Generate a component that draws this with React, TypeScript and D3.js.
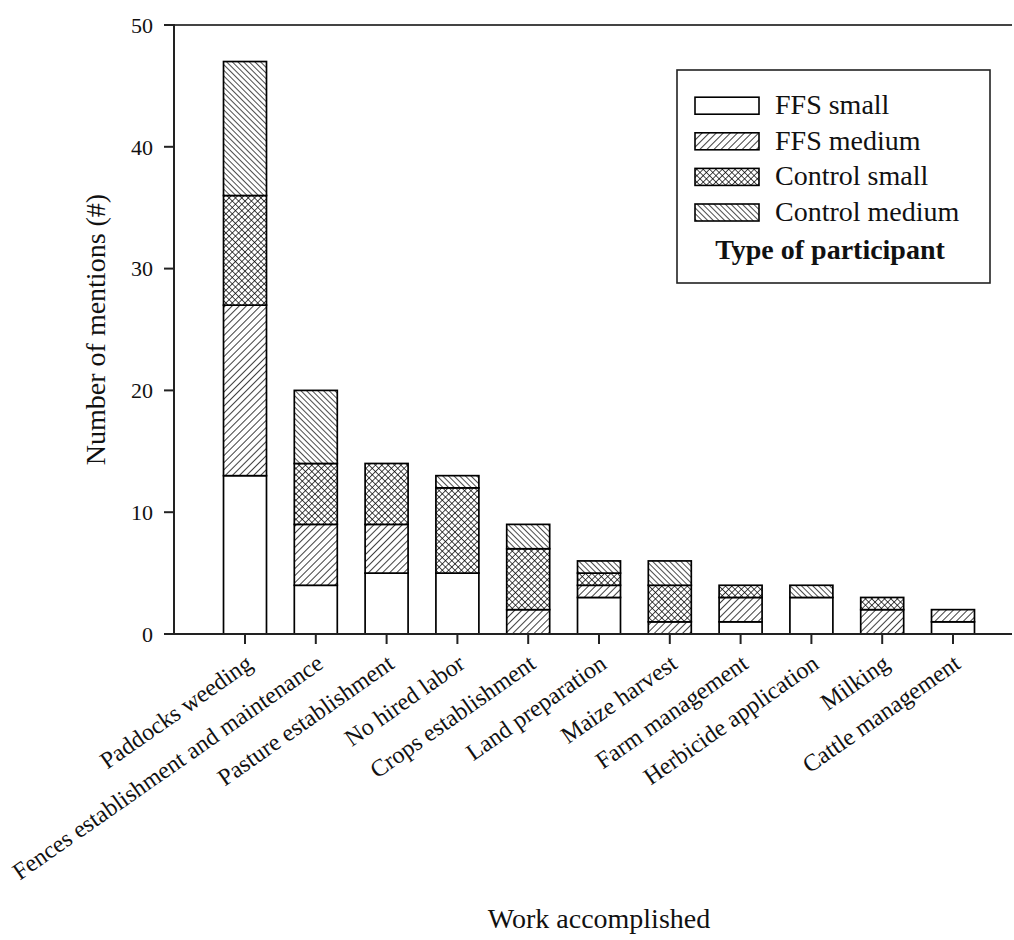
import React from "react";
import * as d3 from "d3";

const categories = [
  "Paddocks weeding",
  "Fences establishment and maintenance",
  "Pasture establishment",
  "No hired labor",
  "Crops establishment",
  "Land preparation",
  "Maize harvest",
  "Farm management",
  "Herbicide application",
  "Milking",
  "Cattle management",
];
const seriesNames = ["FFS small", "FFS medium", "Control small", "Control medium"];
const ffsSmall = [13, 4, 5, 5, 0, 3, 0, 1, 3, 0, 1];
const ffsMedium = [14, 5, 4, 0, 2, 1, 1, 2, 0, 2, 1];
const controlSmall = [9, 5, 5, 7, 5, 1, 3, 1, 0, 1, 0];
const controlMedium = [11, 6, 0, 1, 2, 1, 2, 0, 1, 0, 0];
const yTicks = [0, 10, 20, 30, 40, 50];

const FONT = "Liberation Serif";
const patternIds = ["none", "ffsMed", "ctrlSmall", "ctrlMed"];

export default function App() {
  const W = 1014, H = 940;
  const x = d3.scaleBand<string>().domain(categories).range([209.6, 988.4]).paddingInner(0.393).paddingOuter(0.1965);
  const y = d3.scaleLinear().domain([0, 50]).range([634, 25]);
  const x0 = 174, xEnd = 1012;

  const rows = categories.map((c, i) => ({
    cat: c,
    "FFS small": ffsSmall[i],
    "FFS medium": ffsMedium[i],
    "Control small": controlSmall[i],
    "Control medium": controlMedium[i],
  }));
  const stacked = d3.stack<any>().keys(seriesNames)(rows);

  const fillFor = (k: number) => (k === 0 ? "#fff" : `url(#${patternIds[k]})`);

  return (
    <svg width={W} height={H} style={{ display: "block", position: "absolute", left: 0, top: 0 }}>
      <defs>
        <pattern id="ffsMed" patternUnits="userSpaceOnUse" width={5} height={5} patternTransform="rotate(45)">
          <rect width={5} height={5} fill="#fff" />
          <line x1={0} y1={-1} x2={0} y2={6} stroke="#000" strokeWidth={1.5} />
        </pattern>
        <pattern id="ctrlMed" patternUnits="userSpaceOnUse" width={4} height={4} patternTransform="rotate(-45)">
          <rect width={4} height={4} fill="#fff" />
          <line x1={0} y1={-1} x2={0} y2={5} stroke="#000" strokeWidth={1.4} />
        </pattern>
        <pattern id="ctrlSmall" patternUnits="userSpaceOnUse" width={4.5} height={4.5} patternTransform="rotate(45)">
          <rect width={4.5} height={4.5} fill="#fff" />
          <line x1={0} y1={-1} x2={0} y2={5.5} stroke="#000" strokeWidth={1.4} />
          <line x1={-1} y1={0} x2={5.5} y2={0} stroke="#000" strokeWidth={1.4} />
        </pattern>
      </defs>
      <rect width={W} height={H} fill="#fff" />

      {/* bars */}
      {stacked.map((s, k) =>
        s.map((d, i) => {
          const v = d[1] - d[0];
          if (v <= 0) return null;
          return (
            <rect
              key={`${k}-${i}`}
              x={x(categories[i])}
              width={x.bandwidth()}
              y={y(d[1])}
              height={y(d[0]) - y(d[1])}
              fill={fillFor(k)}
              stroke="#000"
              strokeWidth={1.7}
            />
          );
        })
      )}

      {/* frame */}
      <line x1={x0} x2={xEnd} y1={y(50)} y2={y(50)} stroke="#444" strokeWidth={2} />
      <line x1={x0} x2={xEnd} y1={y(0)} y2={y(0)} stroke="#222" strokeWidth={2} />
      <line x1={x0} x2={x0} y1={y(50) - 1} y2={y(0) + 1} stroke="#222" strokeWidth={2} />

      {/* y ticks */}
      {yTicks.map((t) => (
        <g key={t}>
          <line x1={x0 - 10} x2={x0} y1={y(t)} y2={y(t)} stroke="#222" strokeWidth={2} />
          <text x={153} y={y(t)} dy="0.35em" textAnchor="end" fontSize={22} fill="#111" fontFamily={FONT}>
            {t}
          </text>
        </g>
      ))}

      {/* x ticks */}
      {categories.map((c) => {
        const cx = (x(c) as number) + x.bandwidth() / 2;
        return (
          <g key={c}>
            <line x1={cx} x2={cx} y1={y(0)} y2={y(0) + 10} stroke="#222" strokeWidth={2} />
            <text
              transform={`translate(${cx + 9},${667}) rotate(-35)`}
              textAnchor="end"
              fontSize={24}
              fill="#111"
              fontFamily={FONT}
            >
              {c}
            </text>
          </g>
        );
      })}

      {/* axis titles */}
      <text x={599} y={928} textAnchor="middle" fontSize={28} fill="#111" fontFamily={FONT}>
        Work accomplished
      </text>
      <text
        transform={`translate(105,${(y(0) + y(50)) / 2}) rotate(-90)`}
        textAnchor="middle"
        fontSize={28}
        fill="#111"
        fontFamily={FONT}
      >
        Number of mentions (#)
      </text>

      {/* legend */}
      <rect x={677} y={70} width={313} height={213} fill="#fff" stroke="#222" strokeWidth={1.6} />
      {seriesNames.map((n, k) => {
        const cy = 105.7 + k * 35.6;
        return (
          <g key={n}>
            <rect x={695} y={cy - 8.5} width={64} height={17} fill={fillFor(k)} stroke="#000" strokeWidth={1.6} />
            <text x={775} y={cy + 8.5} fontSize={28} fill="#111" fontFamily={FONT}>
              {n}
            </text>
          </g>
        );
      })}
      <text x={830} y={259} textAnchor="middle" fontSize={28} fontWeight="bold" fill="#111" fontFamily={FONT}>
        Type of participant
      </text>
    </svg>
  );
}
